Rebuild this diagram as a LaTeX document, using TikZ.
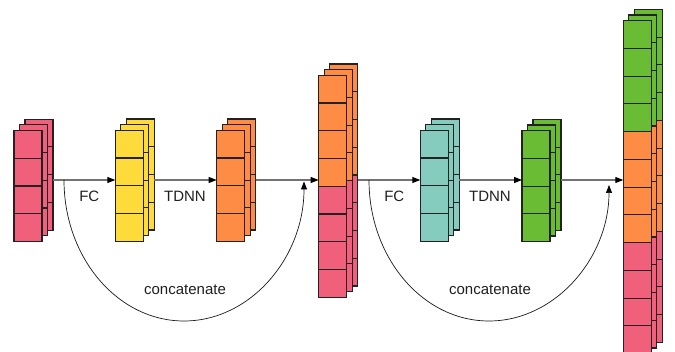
\documentclass[tikz,border=0pt]{standalone}
\usepackage{fontspec}
\setmainfont{Liberation Sans}
\usetikzlibrary{arrows.meta}
\definecolor{cred}{HTML}{F0607A}
\definecolor{cyel}{HTML}{FDDB3A}
\definecolor{corg}{HTML}{FF8C45}
\definecolor{cteal}{HTML}{86CCBE}
\definecolor{cgrn}{HTML}{6BBC35}
\definecolor{cedge}{HTML}{222222}
\newcommand\stackbox[5]{%
  \foreach \L/\dx/\dy in {back/11/-11.3, mid/5.5/-5.7, front/0/0} {
    \foreach \c [count=\i from 0] in {#5} {
      \foreach \k in {0,...,3} {
        \draw[cell, fill=\c] (#2+\dx, #3+\dy+\i*111+\k*27.75) rectangle ++(28,27.75);
      }
    }
    \node[layer, minimum height=#4*27.75pt, anchor=north west] (#1-\L) at (#2+\dx,#3+\dy) {};
  }%
}
\begin{document}
\begin{tikzpicture}[x=1pt,y=-1pt,
  cell/.style={draw=cedge, line width=1.1pt},
  layer/.style={draw=none, inner sep=0pt, outer sep=0pt, minimum width=28pt},
  conn/.style={draw=black!55, line width=1.1pt, -{Triangle[length=8pt,width=6pt,color=black]}},
  skip/.style={draw=black!90, line width=0.7pt, -{Triangle[length=8pt,width=6pt,color=black]}},
  lbl/.style={font=\fontsize{15}{18}\selectfont, text=black!88, inner sep=0pt}]
\useasboundingbox (0,0) rectangle (675,352);
\clip (0,0) rectangle (675,352);
\coordinate (yl) at (0,180);
\stackbox{red1}{14}{130.5}{4}{cred}
\stackbox{yel}{115.3}{130.3}{4}{cyel}
\stackbox{org}{216.7}{130.3}{4}{corg}
\stackbox{cat1}{318.7}{75.3}{8}{corg,cred}
\stackbox{teal}{420.3}{130.3}{4}{cteal}
\stackbox{grn}{522}{130.7}{4}{cgrn}
\stackbox{cat2}{623.3}{20.7}{12}{cgrn,corg,cred}
% forward connectors
\draw[conn] (red1-back.east |- yl) -- (yel-front.west |- yl);
\draw[conn] (yel-back.east |- yl) -- (org-front.west |- yl);
\draw[conn] (org-back.east |- yl) -- (cat1-front.west |- yl);
\draw[conn] (cat1-back.east |- yl) -- (teal-front.west |- yl);
\draw[conn] (teal-back.east |- yl) -- (grn-front.west |- yl);
\draw[conn] (grn-back.east |- yl) -- (cat2-front.west |- yl);
% skip connections
\coordinate (sp1) at (64,180);
\coordinate (sp2) at (369,180);
\draw[skip, shorten >=1.5pt] (sp1) arc[start angle=180, end angle=0, x radius=120, y radius=141];
\draw[skip, shorten >=5pt] (sp2) arc[start angle=180, end angle=0, x radius=120, y radius=141];
% labels
\node[lbl] (l1) at (89.3,196.7) {FC};
\node[lbl] (l2) at (185,196.7) {TDNN};
\node[lbl] (l3) at (185,290) {concatenate};
\node[lbl] (l4) at (394.3,196.7) {FC};
\node[lbl] (l5) at (490,196.7) {TDNN};
\node[lbl] (l6) at (490,290) {concatenate};
\end{tikzpicture}
\end{document}
